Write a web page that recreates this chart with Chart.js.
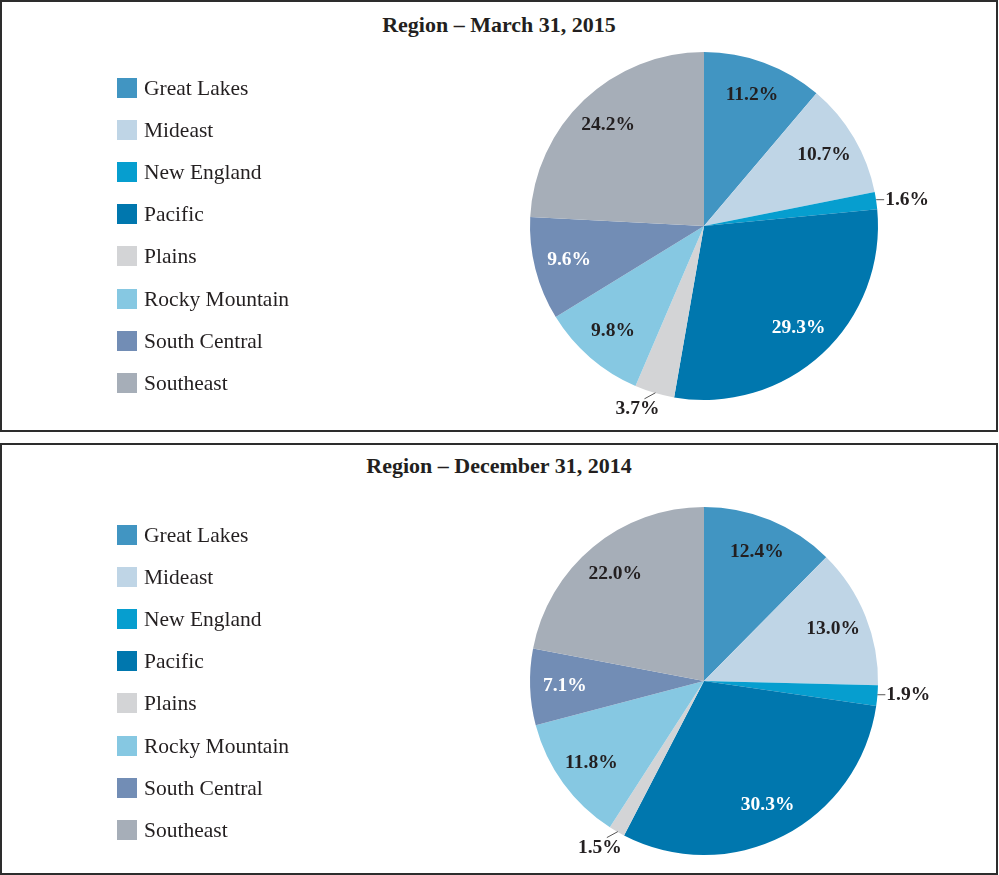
<!DOCTYPE html>
<html>
<head>
<meta charset="utf-8">
<script src="https://cdn.jsdelivr.net/npm/chart.js@4"></script>
<style>
  body { margin: 0; background: #fff; font-family: "Liberation Serif", "Times New Roman", serif; color: #231f20; }
  .panel { position: absolute; left: 0; width: 998px; height: 432px; box-sizing: border-box; border: 2px solid #2d2d2d; }
  .panel canvas { position: absolute; left: 0; top: 0; }
  .title { position: absolute; left: 0; width: 994px; text-align: center; font-weight: bold; font-size: 22px; line-height: 24px; }
  .leg { position: absolute; left: 115px; height: 20px; font-size: 21.5px; line-height: 20px; white-space: nowrap; }
  .leg span { position: absolute; left: 0; top: 0; width: 20px; height: 20px; }
  .leg b { position: absolute; left: 27px; top: 0; font-weight: normal; }
</style>
</head>
<body>
<div class="panel" id="p1" style="top:0">
  <div class="title" style="top:11px">Region – March 31, 2015</div>
  <canvas id="c1" width="994" height="428"></canvas>
</div>
<div class="panel" id="p2" style="top:443px">
  <div class="title" style="top:9px">Region – December 31, 2014</div>
  <canvas id="c2" width="994" height="428"></canvas>
</div>
<script>
// regions, in the order they are drawn (clockwise from 12 o'clock)
const regions = ['Great Lakes', 'Mideast', 'New England', 'Pacific', 'Plains', 'Rocky Mountain', 'South Central', 'Southeast'];
const colors = ['#4195c2', '#bfd5e6', '#069ecf', '#0077ae', '#d3d4d6', '#86c8e2', '#728db5', '#a6aeb8'];

// percent of total
const mar2015 = [11.2, 10.7, 1.6, 29.3, 3.7, 9.8, 9.6, 24.2];
const dec2014 = [12.4, 13.0, 1.9, 30.3, 1.5, 11.8, 7.1, 22.0];

const lightText = ['Pacific', 'South Central'];

// percentage labels: inside for big slices, outside with a short leader for small ones
const pctLabels = {
  id: 'pctLabels',
  afterDatasetsDraw(chart) {
    const ctx = chart.ctx;
    const meta = chart.getDatasetMeta(0);
    const vals = chart.data.datasets[0].data;
    ctx.save();
    ctx.font = 'bold 19.5px "Liberation Serif"';
    ctx.textBaseline = 'middle';
    meta.data.forEach((arc, i) => {
      const p = arc.getProps(['x', 'y', 'startAngle', 'endAngle', 'outerRadius'], true);
      const mid = (p.startAngle + p.endAngle) / 2;
      const txt = vals[i].toFixed(1) + '%';
      const cos = Math.cos(mid), sin = Math.sin(mid);
      if (vals[i] >= 5) {
        const r = p.outerRadius * 0.8;
        ctx.fillStyle = lightText.includes(chart.data.labels[i]) ? '#ffffff' : '#231f20';
        ctx.textAlign = 'center';
        ctx.fillText(txt, p.x + r * cos, p.y + r * sin);
        return;
      }
      const ex = p.x + p.outerRadius * cos;
      const ey = p.y + p.outerRadius * sin;
      ctx.strokeStyle = '#555';
      ctx.lineWidth = 1;
      ctx.fillStyle = '#231f20';
      ctx.beginPath();
      if (cos > 0) {
        ctx.moveTo(ex, ey - 1);
        ctx.lineTo(ex + 8, ey - 1);
        ctx.stroke();
        ctx.textAlign = 'left';
        ctx.fillText(txt, ex + 9, ey - 1);
      } else {
        ctx.moveTo(ex + 1, ey);
        ctx.lineTo(ex - 10, ey + 6);
        ctx.stroke();
        ctx.textAlign = 'center';
        ctx.fillText(txt, ex - 17, ey + 16);
      }
    });
    ctx.restore();
  }
};

function makePie(id, values, padTop, padBottom) {
  return new Chart(document.getElementById(id), {
    type: 'pie',
    data: {
      labels: regions,
      datasets: [{ data: values, backgroundColor: colors, borderWidth: 0 }]
    },
    options: {
      responsive: false,
      animation: false,
      layout: { padding: { left: 528, right: 118, top: padTop, bottom: padBottom } },
      plugins: { legend: { display: false }, tooltip: { enabled: false } }
    },
    plugins: [pctLabels]
  });
}

function makeLegend(panelId, firstCenter) {
  const panel = document.getElementById(panelId);
  regions.forEach((name, i) => {
    const row = document.createElement('div');
    row.className = 'leg';
    row.style.top = (firstCenter + i * 42.1 - 10) + 'px';
    row.innerHTML = '<span style="background:' + colors[i] + '"></span><b>' + name + '</b>';
    panel.appendChild(row);
  });
}

makePie('c1', mar2015, 50, 30);
makePie('c2', dec2014, 62, 18);
makeLegend('p1', 86);
makeLegend('p2', 90);
</script>
</body>
</html>
